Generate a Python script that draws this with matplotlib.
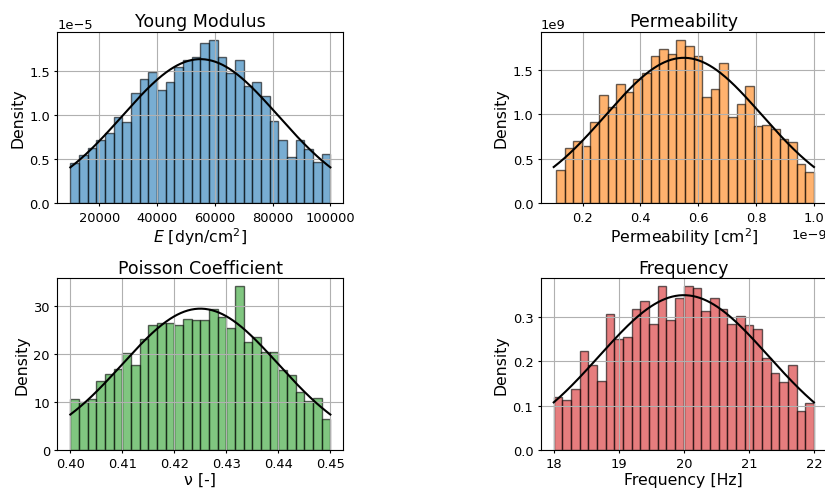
import math
import numpy as np
import matplotlib
matplotlib.use("Agg")
import matplotlib.pyplot as plt

# ---- histogram densities (30 bins each) ----
young_range = (10000.0, 100000.0)
young_density = np.array([
    0.455, 0.542, 0.625, 0.720, 0.800, 0.977, 0.917, 1.246, 1.409, 1.489,
    1.280, 1.379, 1.542, 1.621, 1.655, 1.818, 1.852, 1.655, 1.477, 1.621,
    1.330, 1.379, 1.212, 0.932, 0.720, 0.523, 0.720, 0.617, 0.473, 0.557,
]) * 1e-5

perm_range = (0.1076e-9, 1.0e-9)
perm_density = np.array([
    0.372, 0.620, 0.703, 0.639, 0.914, 1.214, 1.079, 1.342, 1.248, 1.395,
    1.466, 1.658, 1.737, 1.680, 1.835, 1.771, 1.658, 1.195, 1.282, 1.579,
    0.966, 1.117, 1.312, 0.868, 0.883, 0.838, 0.722, 0.684, 0.440, 0.357,
]) * 1e9

poisson_range = (0.40, 0.45)
poisson_density = np.array([
    10.51, 9.95, 10.51, 14.34, 15.87, 16.91, 20.18, 17.61, 23.17, 26.10,
    26.44, 26.44, 26.10, 27.35, 27.00, 27.00, 29.30, 27.63, 25.33, 34.03,
    22.55, 23.52, 20.46, 20.46, 16.70, 15.52, 12.04, 10.23, 10.86, 6.47,
])

freq_range = (18.0, 22.0)
freq_density = np.array([
    0.119, 0.113, 0.138, 0.223, 0.193, 0.156, 0.308, 0.252, 0.256, 0.319,
    0.337, 0.286, 0.370, 0.293, 0.344, 0.370, 0.366, 0.315, 0.345, 0.320,
    0.286, 0.304, 0.282, 0.274, 0.209, 0.175, 0.154, 0.193, 0.088, 0.106,
])

# ---- truncated normal parameters: (mean, std, lower, upper) ----
young_fit = (55000.0, 27000.0, 10000.0, 100000.0)
perm_fit = (0.55e-9, 0.27e-9, 0.1e-9, 1.0e-9)
poisson_fit = (0.425, 0.015, 0.40, 0.45)
freq_fit = (20.0, 1.3, 18.0, 22.0)

titles = ["Young Modulus", "Permeability", "Poisson Coefficient", "Frequency"]
xlabels = ["$E$ [dyn/cm$^2$]", "Permeability [cm$^2$]", "ν [-]", "Frequency [Hz]"]
colors = ["tab:blue", "tab:orange", "tab:green", "tab:red"]


def trunc_norm_pdf(x, mu, sigma, lo, hi):
    cdf = lambda v: 0.5 * (1.0 + math.erf((v - mu) / (sigma * math.sqrt(2.0))))
    z = cdf(hi) - cdf(lo)
    return np.exp(-0.5 * ((x - mu) / sigma) ** 2) / (sigma * math.sqrt(2 * math.pi)) / z


fig = plt.figure(figsize=(8.25, 4.89), dpi=100)
positions = [
    [0.0695, 0.5822, 0.3467, 0.3509],
    [0.6554, 0.5822, 0.3470, 0.3509],
    [0.0695, 0.0783, 0.3467, 0.3505],
    [0.6554, 0.0783, 0.3470, 0.3505],
]

datasets = [
    (young_range, young_density, young_fit),
    (perm_range, perm_density, perm_fit),
    (poisson_range, poisson_density, poisson_fit),
    (freq_range, freq_density, freq_fit),
]

tick_fs = 9.4
label_fs = 11.3
title_fs = 12.5

for pos, (rng, dens, fit), title, xlab, col in zip(positions, datasets, titles, xlabels, colors):
    ax = fig.add_axes(pos)
    edges = np.linspace(rng[0], rng[1], len(dens) + 1)
    ax.bar(edges[:-1], dens, width=np.diff(edges), align="edge",
           color=col, alpha=0.6, edgecolor="black", linewidth=1.0)
    xs = np.linspace(fit[2], fit[3], 300)
    ax.plot(xs, trunc_norm_pdf(xs, *fit), color="black", linewidth=1.5)
    ax.grid(True, color="#b0b0b0", linewidth=0.8)
    ax.set_title(title, fontsize=title_fs, pad=4)
    ax.set_xlabel(xlab, fontsize=label_fs, labelpad=1.5)
    ax.set_ylabel("Density", fontsize=label_fs, labelpad=3)
    ax.tick_params(labelsize=tick_fs, length=2.5, pad=2.8)
    ax.xaxis.get_offset_text().set_fontsize(tick_fs)
    ax.yaxis.get_offset_text().set_fontsize(tick_fs)

fig.savefig("out.png", dpi=100)
